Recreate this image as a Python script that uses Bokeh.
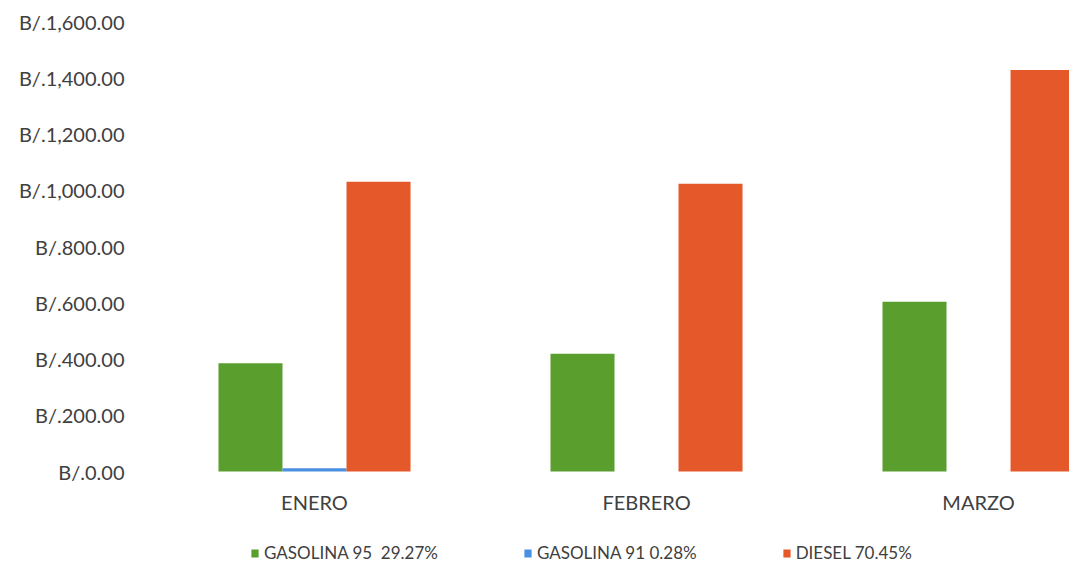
from bokeh.plotting import figure
from bokeh.models import Range1d, FixedTicker, Legend, LegendItem, ColumnDataSource, CustomJSTickFormatter
from bokeh.embed import file_html
from bokeh.resources import INLINE

months = ["ENERO", "FEBRERO", "MARZO"]
series = ["GASOLINA 95  29.27%", "GASOLINA 91 0.28%", "DIESEL 70.45%"]
gasolina95 = [385, 419, 604]
gasolina91 = [12, 0, 0]
diesel = [1030, 1023, 1428]
y_ticks = [0, 200, 400, 600, 800, 1000, 1200, 1400, 1600]
colors = ["#5a9e2e", "#4a90e2", "#e5582a"]

FONT = "Lato"
FS = "20px"
TXT = "#404040"

# frame extends below zero so the legend fits inside it
p = figure(frame_width=921, frame_height=546, output_backend="svg", toolbar_location=None,
           x_range=Range1d(0, 2.774), y_range=Range1d(-341.33, 1600),
           min_border_left=148, min_border_right=0, min_border_top=21, min_border_bottom=0)
p.outline_line_color = None
p.grid.grid_line_color = None

bw = 0.1928
offsets = [-bw, 0, bw]
xc = [i + 0.5 for i in range(len(months))]
renderers = []
for vals, off, col in zip([gasolina95, gasolina91, diesel], offsets, colors):
    src = ColumnDataSource(dict(x=[c + off for c in xc], top=vals))
    r = p.vbar(x="x", top="top", width=bw, bottom=0, source=src, fill_color=col, line_color=None)
    renderers.append(r)

p.xaxis.fixed_location = 0
p.xaxis.ticker = FixedTicker(ticks=xc)
p.xaxis.major_label_overrides = {c: m for c, m in zip(xc, months)}
p.xaxis.axis_line_color = None
p.xaxis.major_tick_line_color = None
p.xaxis.minor_tick_line_color = None
p.xaxis.major_label_standoff = 12
p.xaxis.major_label_text_font = FONT
p.xaxis.major_label_text_font_size = FS
p.xaxis.major_label_text_color = TXT

p.yaxis.ticker = FixedTicker(ticks=y_ticks)
p.yaxis.formatter = CustomJSTickFormatter(code="""
const s = tick.toFixed(2);
const parts = s.split('.');
parts[0] = parts[0].replace(/\\B(?=(\\d{3})+(?!\\d))/g, ',');
return 'B/.' + parts.join('.');
""")
p.yaxis.axis_line_color = None
p.yaxis.major_tick_line_color = None
p.yaxis.minor_tick_line_color = None
p.yaxis.major_label_standoff = 18
p.yaxis.major_label_text_font = FONT
p.yaxis.major_label_text_font_size = FS
p.yaxis.major_label_text_color = TXT

legend = Legend(items=[LegendItem(label=s, renderers=[r]) for s, r in zip(series, renderers)],
                orientation="horizontal", location=(102, 4), border_line_color=None,
                background_fill_alpha=0, glyph_width=9, glyph_height=10, label_standoff=5,
                spacing=85, padding=0, margin=0,
                label_text_font=FONT, label_text_font_size="17px", label_text_color=TXT)
p.add_layout(legend, "center")

open("out.html", "w").write(file_html(p, INLINE))
